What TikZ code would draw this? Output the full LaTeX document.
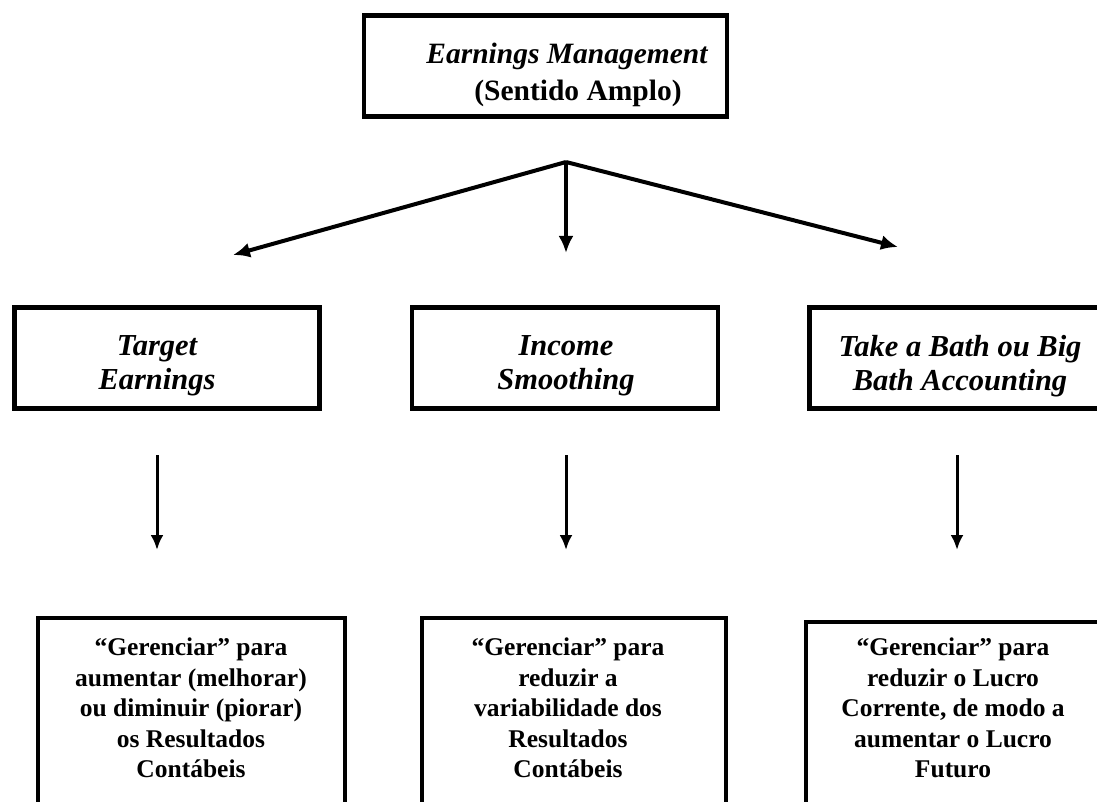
\documentclass[tikz,border=0pt]{standalone}
\usepackage{fontspec}
\setmainfont{Liberation Serif}
\usetikzlibrary{positioning,arrows.meta}
\tikzset{
  mybox/.style={
    draw, rectangle, minimum height=100.5pt, line width=4.7pt, inner sep=0pt
  },
  mytitle/.style={
    align=center, inner sep=0pt, font=\fontsize{30.5}{34}\selectfont\bfseries\itshape
  },
  mytext/.style={
    align=center, inner sep=0pt, font=\fontsize{25.5}{30.6}\selectfont\bfseries
  }
}

\begin{document}
\begin{tikzpicture}[x=1pt, y=-1pt]
   \useasboundingbox (0,0) rectangle (1097,802);

   % top box
   \node[mybox, minimum width=363pt] (emframe) at (545.5, 66) {};
   \node[mytitle, font=\fontsize{29.5}{37}\selectfont\bfseries] (em) at (567, 74.5)
     {{\itshape Earnings Management}\\\hspace*{22pt}(Sentido Amplo)};

   % middle row
   \node[mybox, minimum width=305.5pt] (targetframe) at (167, 358) {};
   \node[mytitle] (target) at (157, 366) {Target\\Earnings};
   \node[mybox, minimum width=306pt] (smoothframe) at (565, 358) {};
   \node[mytitle] (smooth) at (566, 366) {Income\\Smoothing};
   \node[mybox, minimum width=301pt] (bathframe) at (960, 358) {};
   \node[mytitle] (bath) at (960, 366) {Take a Bath ou Big\\Bath Accounting};

   % bottom row
   \node[mybox, minimum width=307pt, minimum height=232pt] (targetdescframe) at (191.5, 734) {};
   \node[mytext] (targetdesc) at (191, 708)
     {“Gerenciar” para\\aumentar (melhorar)\\ou diminuir (piorar)\\os Resultados\\Contábeis};
   \node[mybox, minimum width=304pt, minimum height=232pt] (smoothdescframe) at (574, 734) {};
   \node[mytext] (smoothdesc) at (568, 708)
     {“Gerenciar” para\\reduzir a\\variabilidade dos\\Resultados\\Contábeis};
   \node[mybox, minimum width=294pt, minimum height=228pt] (bathdescframe) at (953, 736) {};
   \node[mytext] (bathdesc) at (953, 708)
     {“Gerenciar” para\\reduzir o Lucro\\Corrente, de modo a\\aumentar o Lucro\\Futuro};

   % fork from the top box
   \coordinate (fork) at (566, 162);
   \coordinate (forktarget) at (233, 255);
   \coordinate (forksmooth) at (566, 253);
   \coordinate (forkbath) at (898, 247);
   \draw[-{Latex[length=17pt,width=15pt]}, line width=4pt] (fork) -- (forktarget);
   \draw[-{Latex[length=17pt,width=15pt]}, line width=4pt] (fork) -- (forksmooth);
   \draw[-{Latex[length=17pt,width=15pt]}, line width=4pt] (fork) -- (forkbath);

   % down arrows
   \foreach \x/\n in {157/target, 566/smooth, 957/bath} {
     \coordinate (\n up) at (\x, 455);
     \coordinate (\n down) at (\x, 550);
     \draw[-{Latex[length=15pt,width=13pt]}, line width=3pt] (\n up) -- (\n down);
   }
\end{tikzpicture}
\end{document}
